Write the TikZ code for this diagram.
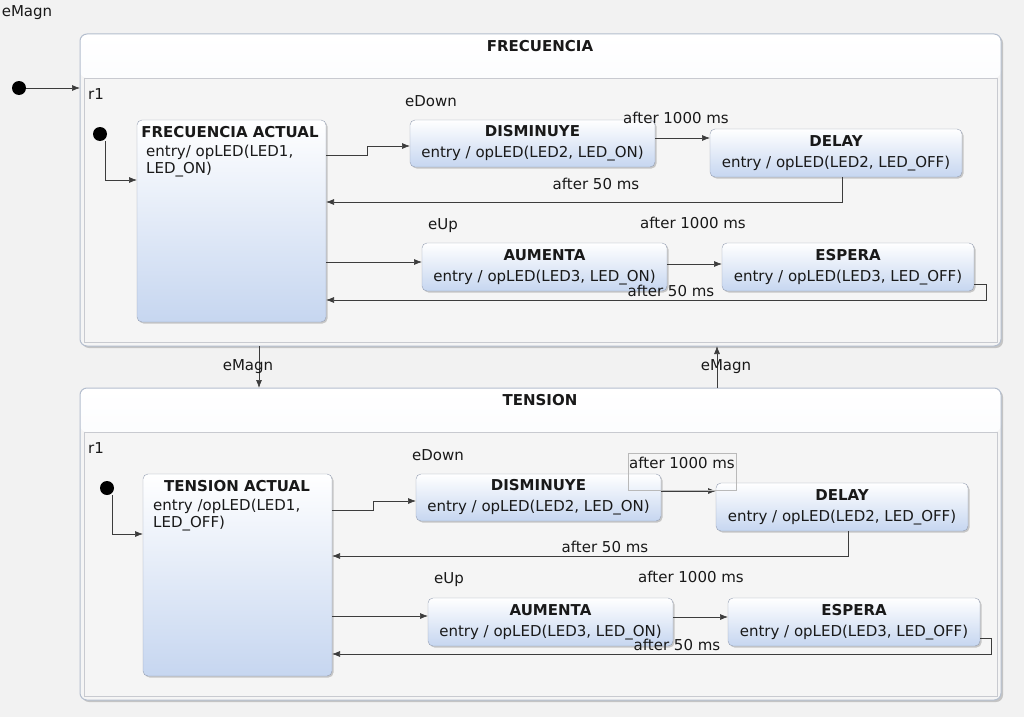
\documentclass[tikz,border=0pt]{standalone}
\usepackage{fontspec}
\setmainfont{DejaVu Sans}
\usetikzlibrary{arrows.meta,shadows}

\definecolor{bgcol}{RGB}{242,242,242}
\definecolor{compline}{RGB}{180,190,206}
\definecolor{hdrblue}{RGB}{232,238,249}
\definecolor{regfill}{RGB}{245,245,245}
\definecolor{regline}{RGB}{200,202,208}
\definecolor{stblue}{RGB}{198,214,240}
\definecolor{stline}{RGB}{150,160,180}
\definecolor{trcol}{RGB}{60,60,60}
\definecolor{txtcol}{RGB}{25,25,25}

\tikzset{
  composite/.style={draw=compline, line width=1pt, rounded corners=7pt, fill=regfill,
    minimum width=921pt, minimum height=312pt, anchor=north west, inner sep=0pt, outer sep=0pt,
    drop shadow={shadow xshift=2pt, shadow yshift=-2pt, opacity=0.4},
    path picture={\shade[top color=white, bottom color=hdrblue]
      (path picture bounding box.north west) rectangle ([yshift=-44pt]path picture bounding box.north east);}},
  region/.style={draw=regline, fill=regfill, minimum width=913pt, minimum height=264pt,
    anchor=north west, inner sep=0pt, outer sep=0pt},
  stbox/.style={draw=stline, rounded corners=5pt, top color=white, bottom color=stblue,
    anchor=north west, inner sep=0pt, outer sep=0pt, align=center,
    drop shadow={shadow xshift=1.5pt, shadow yshift=-1.5pt, opacity=0.4}},
  trans/.style={draw=trcol, line width=0.7pt, -{Latex[length=8pt,width=6pt]}},
  lbl/.style={inner sep=0pt},
  initdot/.style={circle, fill=black, minimum size=14pt, inner sep=0pt, outer sep=0pt}
}

\begin{document}
\begin{tikzpicture}[x=1pt, y=-1pt, font=\fontsize{15}{21}\selectfont, text=txtcol]
  \fill[bgcol] (0,0) rectangle (1024,717);
  \useasboundingbox (0,0) rectangle (1024,717);

  % Composite FRECUENCIA
  \node[composite] (frec) at (80,34) {};
  \node[lbl, font=\fontsize{15}{21}\selectfont\bfseries] (frect) at (540,46) {FRECUENCIA};
  \node[region] (rf) at (84,78) {};
  \node[lbl] (rft) at (96,94) {r1};
  \node[lbl] (em0) at (27,13) {eMagn};
  \node[initdot] (fo) at (19,88) {};
  \draw[trans] (fo) -- (frec.west |- fo);

  % States of FRECUENCIA
  \node[stbox, minimum width=189pt, minimum height=202pt] (fa) at (137,120) {};
  \node[lbl, font=\fontsize{15}{21}\selectfont\bfseries] (fat) at (230,132) {FRECUENCIA ACTUAL};
  \node[lbl, anchor=north west, align=left, font=\fontsize{15}{17}\selectfont] (fae) at (146,145) {entry/ opLED(LED1,\\LED\_ON)};
  \node[stbox, minimum width=245pt, minimum height=47pt] (fdis) at (410,120)
    {{\bfseries DISMINUYE}\\entry / opLED(LED2, LED\_ON)};
  \node[stbox, minimum width=252pt, minimum height=48pt] (fdel) at (710,129)
    {{\bfseries DELAY}\\entry / opLED(LED2, LED\_OFF)};
  \node[stbox, minimum width=245pt, minimum height=48pt] (faum) at (422,243)
    {{\bfseries AUMENTA}\\entry / opLED(LED3, LED\_ON)};
  \node[stbox, minimum width=252pt, minimum height=48pt] (fesp) at (722,243)
    {{\bfseries ESPERA}\\entry / opLED(LED3, LED\_OFF)};

  % Transitions of FRECUENCIA
  \node[initdot] (fi) at (100,134) {};
  \draw[trans] ([xshift=5pt]fi.south) |- (fa.west |- 0,180);
  \draw[trans] (fa.east |- 0,155) -- (367,155) |- (fdis.west |- 0,146);
  \draw[trans] (fdis.east |- 0,138) -- (fdel.west |- 0,138);
  \draw[trans] ([xshift=6pt]fdel.south) |- (fa.east |- 0,202);
  \draw[trans] (fa.east |- 0,262) -- (faum.west |- 0,262);
  \draw[trans] (faum.east |- 0,264) -- (fesp.west |- 0,264);
  \draw[trans] (fesp.east |- 0,284) -- (986,284) |- (fa.east |- 0,300);
  \node[lbl] (fl1) at (431,101) {eDown};
  \node[lbl] (fl2) at (676,118) {after 1000 ms};
  \node[lbl] (fl3) at (596,184) {after 50 ms};
  \node[lbl] (fl4) at (443,226) {eUp};
  \node[lbl] (fl5) at (693,223) {after 1000 ms};
  \node[lbl] (fl6) at (671,291) {after 50 ms};

  % Composite TENSION
  \node[composite] (ten) at (80,388) {};
  \node[lbl, font=\fontsize{15}{21}\selectfont\bfseries] (tent) at (540,400) {TENSION};
  \node[region] (rt) at (84,432) {};
  \node[lbl] (rtt) at (96,448) {r1};

  % eMagn between composites
  \draw[trans] (frec.south -| 259,0) -- (ten.north -| 259,0);
  \draw[trans] (ten.north -| 717,0) -- (frec.south -| 717,0);
  \node[lbl] (em1) at (248,367) {eMagn};
  \node[lbl] (em2) at (726,367) {eMagn};

  % States of TENSION
  \node[stbox, minimum width=189pt, minimum height=202pt] (ta) at (143,474) {};
  \node[lbl, font=\fontsize{15}{21}\selectfont\bfseries] (tat) at (237,486) {TENSION ACTUAL};
  \node[lbl, anchor=north west, align=left, font=\fontsize{15}{17}\selectfont] (tae) at (153,499) {entry /opLED(LED1,\\LED\_OFF)};
  \node[stbox, minimum width=245pt, minimum height=47pt] (tdis) at (416,474)
    {{\bfseries DISMINUYE}\\entry / opLED(LED2, LED\_ON)};
  \node[stbox, minimum width=252pt, minimum height=48pt] (tdel) at (716,483)
    {{\bfseries DELAY}\\entry / opLED(LED2, LED\_OFF)};
  \node[stbox, minimum width=245pt, minimum height=48pt] (taum) at (428,598)
    {{\bfseries AUMENTA}\\entry / opLED(LED3, LED\_ON)};
  \node[stbox, minimum width=252pt, minimum height=48pt] (tesp) at (728,598)
    {{\bfseries ESPERA}\\entry / opLED(LED3, LED\_OFF)};

  % Transitions of TENSION
  \node[initdot] (ti) at (107,488) {};
  \draw[trans] ([xshift=5pt]ti.south) |- (ta.west |- 0,534);
  \draw[trans] (ta.east |- 0,510) -- (373,510) |- (tdis.west |- 0,501);
  \draw[trans] (tdis.east |- 0,491) -- (tdel.west |- 0,491);
  \draw[trans] ([xshift=6pt]tdel.south) |- (ta.east |- 0,556);
  \draw[trans] (ta.east |- 0,616) -- (taum.west |- 0,616);
  \draw[trans] (taum.east |- 0,617) -- (tesp.west |- 0,617);
  \draw[trans] (tesp.east |- 0,638) -- (991,638) |- (ta.east |- 0,654);
  \node[lbl] (tl1) at (438,455) {eDown};
  \node[lbl] (tl2) at (682,463) {after 1000 ms};
  \draw[gray!55] (628,453) rectangle (736,490);
  \node[lbl] (tl3) at (605,547) {after 50 ms};
  \node[lbl] (tl4) at (449,580) {eUp};
  \node[lbl] (tl5) at (691,577) {after 1000 ms};
  \node[lbl] (tl6) at (677,645) {after 50 ms};
\end{tikzpicture}
\end{document}
